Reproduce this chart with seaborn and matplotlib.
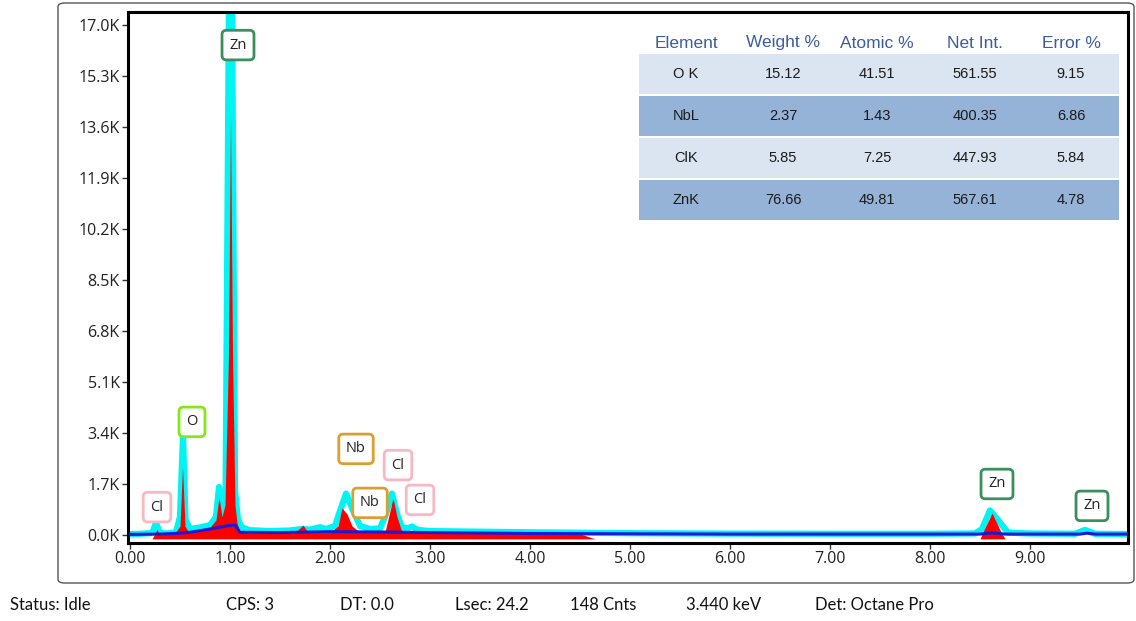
import numpy as np
import pandas as pd
import seaborn as sns
import matplotlib.pyplot as plt
from matplotlib.patches import FancyBboxPatch, Rectangle

# ---- measured spectrum (keV, counts) ----
meas_kev = [0.00, 0.10, 0.20, 0.23, 0.26, 0.29, 0.33, 0.40, 0.46, 0.50, 0.53, 0.555,
            0.60, 0.70, 0.80, 0.86, 0.89, 0.925, 0.955, 0.99, 1.02, 1.05, 1.08, 1.12,
            1.20, 1.40, 1.60, 1.72, 1.80, 1.90, 1.96, 2.05, 2.10, 2.16, 2.22, 2.30,
            2.40, 2.50, 2.56, 2.62, 2.67, 2.72, 2.78, 2.82, 2.88, 3.00, 3.50, 4.00,
            5.00, 6.00, 7.00, 8.00, 8.45, 8.52, 8.60, 8.68, 8.78, 9.00, 9.45, 9.55,
            9.65, 9.98]
meas_cnt = [30, 40, 60, 120, 420, 120, 50, 60, 100, 600, 3300, 500,
            200, 250, 330, 600, 1600, 650, 900, 18000, 18000, 1500, 500, 250,
            160, 130, 150, 200, 180, 260, 200, 300, 800, 1380, 900, 300,
            200, 220, 700, 1380, 700, 250, 230, 280, 170, 130, 110, 90,
            60, 45, 40, 40, 50, 200, 820, 500, 80, 50, 40, 170,
            40, 30]

# ---- fitted peaks + background (filled) ----
fit_kev = [0.00, 0.22, 0.25, 0.27, 0.29, 0.45, 0.50, 0.525, 0.55, 0.58, 0.70, 0.80,
           0.86, 0.89, 0.92, 0.95, 0.985, 1.005, 1.025, 1.05, 1.07, 1.10, 1.20, 1.64,
           1.69, 1.73, 1.78, 2.00, 2.08, 2.12, 2.17, 2.22, 2.30, 2.55, 2.60, 2.63,
           2.67, 2.72, 3.00, 4.50, 4.65, 8.50, 8.53, 8.62, 8.71, 8.75, 9.98]
fit_cnt = [-130, -130, 40, 200, 40, 60, 300, 2270, 300, 130, 180, 260,
           500, 1270, 600, 1000, 6000, 14000, 6000, 1000, 400, 100, 60, 60,
           200, 330, 80, 80, 300, 900, 700, 300, 90, 100, 800, 1230,
           600, 100, 70, 40, -130, -130, 100, 730, 100, -130, -130]

# ---- background ----
bg_kev = [0.00, 0.30, 0.50, 0.60, 0.80, 1.00, 1.05, 1.10, 1.50, 2.00, 2.50, 3.00,
          4.00, 6.00, 8.50, 8.62, 8.75, 9.50, 9.57, 9.65, 9.98]
bg_cnt = [20, 30, 60, 90, 200, 320, 330, 90, 80, 110, 100, 80,
          50, 30, 30, 70, 30, 30, 60, 30, 30]

# ---- element markers ----
marker_names = ["Zn", "O", "Cl", "Nb", "Nb", "Cl", "Cl", "Zn", "Zn"]
marker_kev = [1.08, 0.62, 0.27, 2.26, 2.40, 2.68, 2.90, 8.67, 9.62]
marker_cnt = [16330, 3770, 930, 2870, 1070, 2330, 1170, 1700, 970]
marker_colors = {"Zn": "#3a8f5c", "O": "#86e619", "Cl": "#f7b8c4", "Nb": "#d9a030"}

# ---- quantification table ----
tbl_header = ["Element", "Weight %", "Atomic %", "Net Int.", "Error %"]
tbl_element = ["O K", "NbL", "ClK", "ZnK"]
tbl_weight = ["15.12", "2.37", "5.85", "76.66"]
tbl_atomic = ["41.51", "1.43", "7.25", "49.81"]
tbl_netint = ["561.55", "400.35", "447.93", "567.61"]
tbl_error = ["9.15", "6.86", "5.84", "4.78"]

# ---- status bar ----
status_items = ["Status: Idle", "CPS: 3", "DT: 0.0", "Lsec: 24.2", "148 Cnts",
                "3.440 keV", "Det: Octane Pro"]
status_x = [10, 226, 340, 455, 570, 686, 815]

ytick_vals = [0, 1700, 3400, 5100, 6800, 8500, 10200, 11900, 13600, 15300, 17000]
ytick_labels = ["0.0K", "1.7K", "3.4K", "5.1K", "6.8K", "8.5K", "10.2K", "11.9K",
                "13.6K", "15.3K", "17.0K"]
xtick_vals = [0, 1, 2, 3, 4, 5, 6, 7, 8, 9]
xtick_labels = ["0.00", "1.00", "2.00", "3.00", "4.00", "5.00", "6.00", "7.00",
                "8.00", "9.00"]

sns.set_theme(style="white")
plt.rcParams["font.family"] = ["Open Sans", "DejaVu Sans"]

W, H = 1136, 621
fig = plt.figure(figsize=(W / 100, H / 100), dpi=100)
fig.patch.set_facecolor("white")


def fx(px):
    return px / W


def fy(py):
    return 1 - py / H


# outer frame
fig.add_artist(FancyBboxPatch((fx(58), fy(583)), fx(1134) - fx(58), fy(3) - fy(583),
                              boxstyle="round,pad=0,rounding_size=0.006",
                              transform=fig.transFigure, facecolor="none",
                              edgecolor="#555555", linewidth=1.0))

ax = fig.add_axes([fx(128), fy(543), fx(1128) - fx(128), fy(12) - fy(543)])
ax.set_facecolor("white")

meas_df = pd.DataFrame({"keV": meas_kev, "counts": meas_cnt})
bg_df = pd.DataFrame({"keV": bg_kev, "counts": bg_cnt})

sns.lineplot(data=meas_df, x="keV", y="counts", ax=ax, color="#00f4f4",
             linewidth=4.5, zorder=2, estimator=None, sort=False)
ax.fill_between(fit_kev, fit_cnt, -130, color="#ff0000", linewidth=0, zorder=3)
sns.lineplot(data=bg_df, x="keV", y="counts", ax=ax, color="#1a1ad6",
             linewidth=2.2, zorder=4, estimator=None, sort=False)

ax.set_xlim(-0.02, 9.98)
ax.set_ylim(-267, 17433)
ax.set_xticks(xtick_vals)
ax.set_xticklabels(xtick_labels)
ax.set_yticks(ytick_vals)
ax.set_yticklabels(ytick_labels)
ax.set_xlabel("")
ax.set_ylabel("")
ax.tick_params(axis="both", direction="out", length=4, width=1, color="#333333",
               labelsize=11.5, labelcolor="#222222", pad=2, left=True, bottom=True)
for sp in ax.spines.values():
    sp.set_color("black")
    sp.set_linewidth(2.2)

for name, kx, ky in zip(marker_names, marker_kev, marker_cnt):
    ax.text(kx, ky, name, ha="center", va="center", fontsize=10.5, color="#222222",
            zorder=6,
            bbox=dict(boxstyle="round,pad=0.5,rounding_size=0.3", facecolor="white",
                      edgecolor=marker_colors[name], linewidth=2))

# quantification table
col_x = [686, 783, 877, 975, 1071]
row_top = [53, 95, 137, 179]
row_h = 42
row_colors = ["#dbe5f1", "#95b3d7", "#dbe5f1", "#95b3d7"]
for i, (top, c) in enumerate(zip(row_top, row_colors)):
    fig.add_artist(Rectangle((fx(639), fy(top + row_h - 1)), fx(1119) - fx(639),
                             fy(top + 1) - fy(top + row_h - 1), transform=fig.transFigure,
                             facecolor=c, edgecolor="none", zorder=5))
for x, h in zip(col_x, tbl_header):
    fig.text(fx(x), fy(43), h, ha="center", va="center", fontsize=12.5,
             color="#3c5d9c", family="Liberation Sans", zorder=6)
rows = list(zip(tbl_element, tbl_weight, tbl_atomic, tbl_netint, tbl_error))
for i, row in enumerate(rows):
    cy = row_top[i] + row_h / 2
    for x, v in zip(col_x, row):
        fig.text(fx(x), fy(cy), v, ha="center", va="center", fontsize=10.5,
                 color="#1a1a1a", family="Liberation Sans", zorder=6)

for x, s in zip(status_x, status_items):
    fig.text(fx(x), fy(605), s, ha="left", va="center", fontsize=12,
             color="#111111", family="Lato")

fig.savefig("out.png", dpi=100)
